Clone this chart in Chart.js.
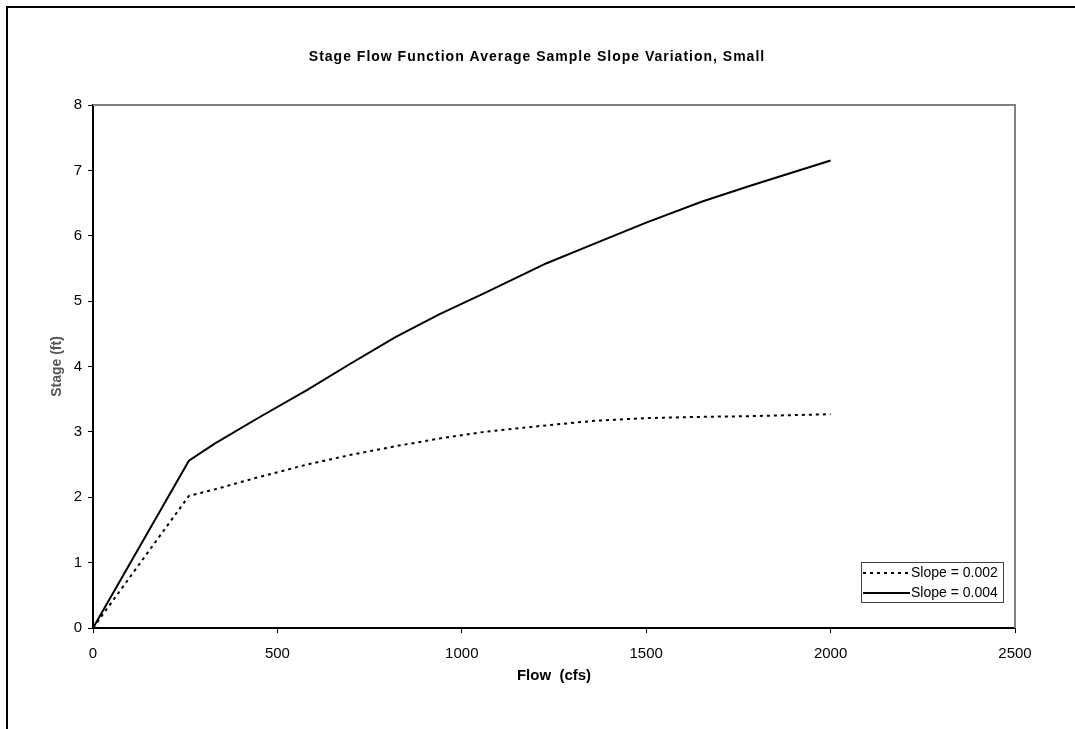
<!DOCTYPE html>
<html>
<head>
	<title>StageFlowSlope</title>
	<style>
		body { margin: 0; background: #fff; }
		canvas { display: block; }
	</style>
	<script src="https://cdn.jsdelivr.net/npm/chart.js"></script>
</head>
<body>
	<canvas id="stageChart" width="1075" height="729"></canvas>
	<script>
		// flow (cfs) vs stage (ft)
		const flow = [0, 260, 330, 450, 580, 700, 820, 940, 1060, 1230, 1360, 1500, 1650, 1780, 2000];
		const stageSlope002 = [0, 2.02, 2.12, 2.31, 2.5, 2.65, 2.78, 2.9, 3.0, 3.1, 3.17, 3.21, 3.23, 3.24, 3.27];
		const stageSlope004 = [0, 2.56, 2.82, 3.22, 3.64, 4.05, 4.45, 4.8, 5.12, 5.58, 5.88, 6.2, 6.52, 6.76, 7.15];
		const seriesNames = ['Slope = 0.002', 'Slope = 0.004'];
		const xTicks = [0, 500, 1000, 1500, 2000, 2500];
		const yTicks = [0, 1, 2, 3, 4, 5, 6, 7, 8];
		const chartTitle = 'Stage Flow Function Average Sample Slope Variation, Small';

		const FONT = 'Arial, "Liberation Sans", sans-serif';
		const toPoints = (xs, ys) => xs.map((x, i) => ({ x: x, y: ys[i] }));

		// frame, title, plot border and the boxed legend inside the plot area
		const framePlugin = {
			id: 'frame',
			beforeDraw(chart) {
				const c = chart.ctx;
				c.save();
				c.strokeStyle = '#000';
				c.lineWidth = 2;
				c.beginPath();
				c.moveTo(7, 729);
				c.lineTo(7, 7);
				c.lineTo(1075, 7);
				c.stroke();

				c.fillStyle = '#000';
				c.font = 'bold 14px ' + FONT;
				c.letterSpacing = '1px';
				c.textAlign = 'center';
				c.textBaseline = 'middle';
				c.fillText(chartTitle, 537, 57);
				c.restore();
			},
			afterDraw(chart) {
				const c = chart.ctx;
				const a = chart.chartArea;
				c.save();
				c.strokeStyle = '#808080';
				c.lineWidth = 2;
				c.beginPath();
				c.moveTo(a.left, a.top);
				c.lineTo(a.right, a.top);
				c.lineTo(a.right, a.bottom);
				c.stroke();

				// legend
				const lx = 861, ly = 562, lw = 142, lh = 40;
				c.fillStyle = '#fff';
				c.fillRect(lx, ly, lw, lh);
				c.strokeStyle = '#404040';
				c.lineWidth = 1;
				c.strokeRect(lx + 0.5, ly + 0.5, lw, lh);
				c.font = '14px ' + FONT;
				c.textBaseline = 'middle';
				c.textAlign = 'left';
				chart.data.datasets.forEach((ds, i) => {
					const y = ly + 11 + i * 20;
					c.strokeStyle = '#000';
					c.lineWidth = ds.borderWidth;
					c.setLineDash(ds.borderDash || []);
					c.beginPath();
					c.moveTo(lx + 2, y);
					c.lineTo(lx + 49, y);
					c.stroke();
					c.setLineDash([]);
					c.fillStyle = '#000';
					c.fillText(ds.label, lx + 50, y);
				});
				c.restore();
			}
		};

		new Chart(document.getElementById('stageChart').getContext('2d'), {
			type: 'line',
			data: {
				datasets: [{
					label: seriesNames[0],
					data: toPoints(flow, stageSlope002),
					borderColor: '#000',
					borderWidth: 2,
					borderDash: [3, 4],
					pointRadius: 0,
					tension: 0
				}, {
					label: seriesNames[1],
					data: toPoints(flow, stageSlope004),
					borderColor: '#000',
					borderWidth: 2,
					pointRadius: 0,
					tension: 0
				}]
			},
			options: {
				responsive: false,
				animation: false,
				devicePixelRatio: 1,
				layout: { padding: { left: 0, right: 60, top: 105, bottom: 41 } },
				plugins: {
					legend: { display: false },
					tooltip: { enabled: false },
					title: { display: false }
				},
				scales: {
					x: {
						type: 'linear',
						min: 0,
						max: 2500,
						afterBuildTicks: s => { s.ticks = xTicks.map(v => ({ value: v })); },
						afterFit: s => { s.height = 60; },
						border: { color: '#000', width: 2 },
						grid: { drawOnChartArea: false, tickLength: 5, color: '#000' },
						ticks: {
							color: '#000',
							padding: 12,
							callback: v => String(v),
							font: { family: FONT, size: 15 }
						},
						title: {
							display: true,
							text: 'Flow  (cfs)',
							color: '#000',
							font: { family: FONT, size: 15, weight: 'bold' },
							padding: { top: 0, bottom: 3 }
						}
					},
					y: {
						type: 'linear',
						min: 0,
						max: 8,
						afterBuildTicks: s => { s.ticks = yTicks.map(v => ({ value: v })); },
						afterFit: s => { s.width = 93; },
						border: { color: '#000', width: 2 },
						grid: { drawOnChartArea: false, tickLength: 5, color: '#000' },
						ticks: {
							color: '#000',
							padding: 6,
							callback: v => String(v),
							font: { family: FONT, size: 15 }
						},
						title: {
							display: true,
							text: 'Stage (ft)',
							color: '#555',
							font: { family: FONT, size: 14, weight: 'bold' },
							padding: { top: 49, bottom: 0 }
						}
					}
				}
			},
			plugins: [framePlugin]
		});
	</script>
</body>
</html>
